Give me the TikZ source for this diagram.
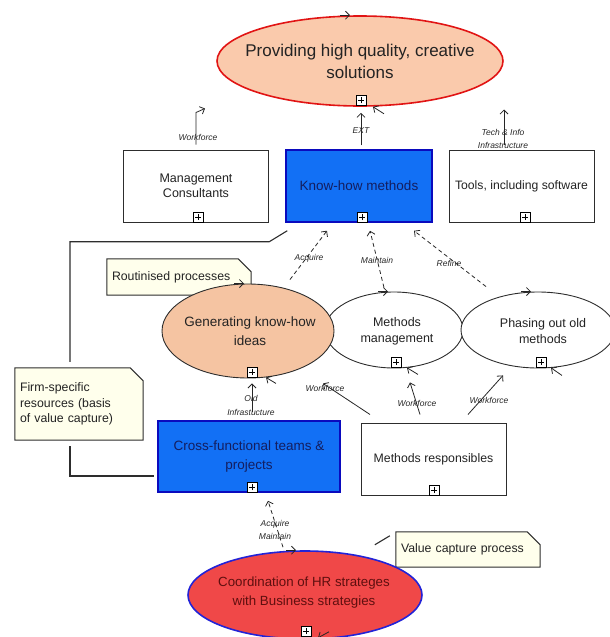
\documentclass[tikz,border=0pt]{standalone}
\usepackage{fontspec}
\setmainfont{Liberation Sans}
\usetikzlibrary{shapes.geometric,arrows.meta,backgrounds}

\definecolor{peach}{RGB}{250,202,172}
\definecolor{peachB}{RGB}{245,196,162}
\definecolor{khblue}{RGB}{18,112,245}
\definecolor{khborder}{RGB}{10,10,190}
\definecolor{khtext}{RGB}{20,30,95}
\definecolor{hrred}{RGB}{240,72,72}
\definecolor{hrborder}{RGB}{35,35,215}
\definecolor{hrtext}{RGB}{95,15,15}
\definecolor{notefill}{RGB}{255,255,236}
\definecolor{linegray}{RGB}{45,45,45}
\definecolor{redline}{RGB}{225,20,20}
\definecolor{txtgray}{RGB}{35,35,35}

\newcommand\notebg[1]{%
  \begin{scope}[on background layer]
    \filldraw[fill=notefill,draw=linegray,line width=1pt]
      (#1.south west) -- (#1.north west) -- ([xshift=-13pt]#1.north east)
      -- ([yshift=-13pt]#1.north east) -- (#1.south east) -- cycle;
  \end{scope}}

\begin{document}
\begin{tikzpicture}[x=1pt,y=-1pt,
  box/.style={draw=linegray,line width=1pt,fill=white,minimum width=145pt,
    minimum height=72pt,inner sep=2pt,align=center,text=txtgray},
  bluebox/.style={box,fill=khblue,draw=khborder,line width=1.5pt,text=khtext},
  ell/.style={ellipse,draw=linegray,line width=0.9pt,inner sep=0pt},
  etxt/.style={inner sep=0pt,align=center,text=txtgray},
  note/.style={inner xsep=5pt,inner ysep=0pt,align=left,text=txtgray,
    font=\fontsize{12.3}{15.5}\selectfont},
  plusbox/.style={draw=black,line width=0.7pt,fill=white,minimum width=10pt,
    minimum height=10pt,inner sep=0pt,anchor=south,
    path picture={\draw[line width=0.7pt]
      ([xshift=-3pt]path picture bounding box.center) -- ([xshift=3pt]path picture bounding box.center)
      ([yshift=-3pt]path picture bounding box.center) -- ([yshift=3pt]path picture bounding box.center);}},
  lbl/.style={inner sep=0pt,text=black!85,align=center,
    font=\fontsize{8.5}{12.5}\selectfont\itshape},
  barb/.style={line width=0.8pt,draw=black!85,
    -{Straight Barb[length=4pt,width=8pt,line width=0.8pt]}},
  dlink/.style={barb,dash pattern=on 4pt off 3pt},
  link/.style={draw=linegray,line width=1.1pt}
]
\useasboundingbox (0,0) rectangle (610,637);

% ---------- notes ----------
\node[note,minimum height=36pt,text width=134pt] (rout) at (179,277) {Routinised processes};
\notebg{rout}
\node[note,minimum height=72pt,text width=118pt] (firm) at (79,404)
  {Firm-specific\\resources (basis\\of value capture)};
\notebg{firm}
\node[note,minimum height=35pt,text width=134pt] (vc) at (468,549.5) {Value capture process};
\notebg{vc}

% ---------- top ellipse ----------
\node[ell,fill=peach,draw=redline,line width=1.6pt,minimum width=286pt,minimum height=90pt]
  (prov) at (360,61) {};
\node[etxt,font=\fontsize{17}{22}\selectfont] (provT) at (360,61)
  {Providing high quality, creative\\solutions};

% ---------- boxes ----------
\node[box,font=\fontsize{12.5}{15}\selectfont] (mc) at (196,186) {Management\\Consultants};
\node[bluebox,minimum width=146pt,font=\fontsize{13.5}{16}\selectfont] (kh) at (359,186) {Know-how methods};
\node[box,font=\fontsize{12.2}{15}\selectfont] (tools) at (521.5,186) {Tools, including software};

% ---------- process ellipses ----------
\node[ell,fill=white,minimum width=138pt,minimum height=76pt] (mm) at (394,330) {};
\node[etxt,font=\fontsize{12.5}{16}\selectfont] (mmT) at (397,331) {Methods\\management};
\node[ell,fill=white,minimum width=154pt,minimum height=76pt] (ph) at (538,330) {};
\node[etxt,font=\fontsize{12.5}{16}\selectfont] (phT) at (543,331) {Phasing out old\\methods};
\node[ell,fill=peachB,minimum width=172pt,minimum height=94pt] (gen) at (248,331) {};
\node[etxt,font=\fontsize{13.5}{19}\selectfont] (genT) at (250,331) {Generating know-how\\ideas};

% ---------- lower boxes ----------
\node[bluebox,minimum width=182pt,minimum height=71pt,font=\fontsize{13.5}{19}\selectfont]
  (cf) at (249,456.5) {Cross-functional teams \&\\projects};
\node[box,font=\fontsize{12.3}{15}\selectfont] (mr) at (433.5,459) {Methods responsibles};

% ---------- bottom ellipse ----------
\node[ell,fill=hrred,draw=hrborder,line width=1.6pt,minimum width=234pt,minimum height=88pt]
  (coord) at (305,595) {};
\node[etxt,text=hrtext,font=\fontsize{13.3}{19}\selectfont] (coordT) at (304,592.5)
  {Coordination of HR strateges\\with Business strategies};

% ---------- plus boxes ----------
\node[plusbox] (provP) at ([xshift=1pt,yshift=1pt]prov.south) {};
\node[plusbox] (mcP) at ([xshift=2pt]mc.south) {};
\node[plusbox] (khP) at ([xshift=3pt]kh.south) {};
\node[plusbox] (toolsP) at ([xshift=3.5pt]tools.south) {};
\node[plusbox] (genP) at ([xshift=4pt,yshift=1pt]gen.south) {};
\node[plusbox] (mmP) at ([xshift=2pt,yshift=1pt]mm.south) {};
\node[plusbox] (phP) at ([xshift=3pt,yshift=1pt]ph.south) {};
\node[plusbox] (cfP) at ([xshift=3pt]cf.south) {};
\node[plusbox] (mrP) at ([xshift=0.5pt]mr.south) {};
\node[plusbox] (coordP) at ([xshift=1pt,yshift=3pt]coord.south) {};

% ---------- flow markers on ellipses ----------
\draw[barb] ([xshift=-20pt]prov.north) -- ([xshift=-10pt]prov.north);
\draw[barb] ([shift={(24pt,-7pt)}]prov.south) -- ([shift={(13pt,0pt)}]prov.south);
\draw[barb] ([xshift=-14pt]gen.north) -- ([xshift=-4pt]gen.north);
\draw[barb] ([shift={(28pt,-5pt)}]gen.south) -- ([shift={(18pt,1pt)}]gen.south);
\draw[barb] ([xshift=-16pt]mm.north) -- ([xshift=-6pt]mm.north);
\draw[barb] ([shift={(24pt,-6pt)}]mm.south) -- ([shift={(13pt,0.7pt)}]mm.south);
\draw[barb] ([xshift=-17pt]ph.north) -- ([xshift=-7pt]ph.north);
\draw[barb] ([shift={(24pt,-7pt)}]ph.south) -- ([shift={(13pt,0.6pt)}]ph.south);
\draw[barb] ([xshift=-19pt]coord.north) -- ([xshift=-9pt]coord.north);
\draw[barb] ([shift={(24pt,8pt)}]coord.south) -- ([shift={(13pt,2pt)}]coord.south);

% ---------- connectors to the top ellipse ----------
\coordinate (wfA) at ([yshift=5pt]mc.north);
\coordinate (wfB) at ([yshift=37pt]mc.north);
\coordinate (wfC) at ([shift={(9pt,41pt)}]mc.north);
\draw[barb] (wfA) -- (wfB) -- (wfC);
\node[lbl] (lWf1) at (198,137) {Workforce};

\draw[barb] ([shift={(2pt,4pt)}]kh.north) -- ([shift={(1pt,-6pt)}]prov.south);
\node[lbl] (lExt) at (361,131) {EXT};

\coordinate (tiA) at ([shift={(-17.5pt,5pt)}]tools.north);
\coordinate (tiB) at ([shift={(-17.5pt,40pt)}]tools.north);
\draw[barb] (tiA) -- (tiB);
\node[lbl] (lTech) at (503,139) {Tech \& Info\\Infrastructure};

% ---------- dashed arrows to Know-how methods ----------
\draw[dlink] ([shift={(42pt,4pt)}]gen.north) -- ([shift={(-32pt,-8pt)}]kh.south);
\node[lbl] (lAcq) at (309,258) {Acquire};
\draw[dlink] ([shift={(-10pt,4pt)}]mm.north) -- ([shift={(11pt,-8pt)}]kh.south);
\node[lbl] (lMnt) at (377,260) {Maintain};
\draw[dlink] ([shift={(-52pt,5pt)}]ph.north) -- ([shift={(55pt,-8pt)}]kh.south);
\node[lbl] (lRef) at (449,263) {Refine};

% ---------- link lines to the note ----------
\coordinate (k1) at ([shift={(2pt,-8pt)}]kh.south west);
\coordinate (k2) at ([shift={(-16pt,-19pt)}]kh.south west);
\coordinate (f1) at ([shift={(-9pt,6pt)}]firm.north);
\draw[link] (k1) -- (k2) -- (k2 -| f1) -- (f1);
\coordinate (f2) at ([shift={(-9pt,-6pt)}]firm.south);
\coordinate (c1) at ([shift={(-3pt,-19.5pt)}]cf.west);
\draw[link] (f2) |- (c1);

% ---------- workforce arrows from Methods responsibles ----------
\draw[barb] ([shift={(-63.5pt,8pt)}]mr.north) -- ([shift={(75pt,-5pt)}]gen.south);
\node[lbl] (lWf2) at (325,388) {Workforce};
\draw[barb] ([shift={(-13.5pt,8pt)}]mr.north) -- ([shift={(16pt,-14pt)}]mm.south);
\node[lbl] (lWf3) at (417,403) {Workforce};
\draw[barb] ([shift={(34.5pt,8pt)}]mr.north) -- ([shift={(-35pt,-7pt)}]ph.south);
\node[lbl] (lWf4) at (489,400) {Workforce};

% ---------- old infrastructure ----------
\draw[barb] ([shift={(3pt,8pt)}]cf.north) -- ([shift={(4pt,-5pt)}]gen.south);
\node[lbl,font=\fontsize{8.5}{14}\selectfont\itshape] (lOld) at (251,405) {Old\\Infrastucture};

% ---------- bottom dashed arrow ----------
\draw[dlink] ([shift={(-22pt,3pt)}]coord.north) -- ([shift={(19pt,-8pt)}]cf.south);
\node[lbl] (lAM) at (275,530) {Acquire\\Maintain};

% ---------- value capture stub ----------
\coordinate (v1) at ([shift={(-6pt,-4pt)}]vc.north west);
\coordinate (v2) at ([shift={(-21pt,-13pt)}]vc.north west);
\draw[link] (v1) -- (v2);
\end{tikzpicture}
\end{document}
